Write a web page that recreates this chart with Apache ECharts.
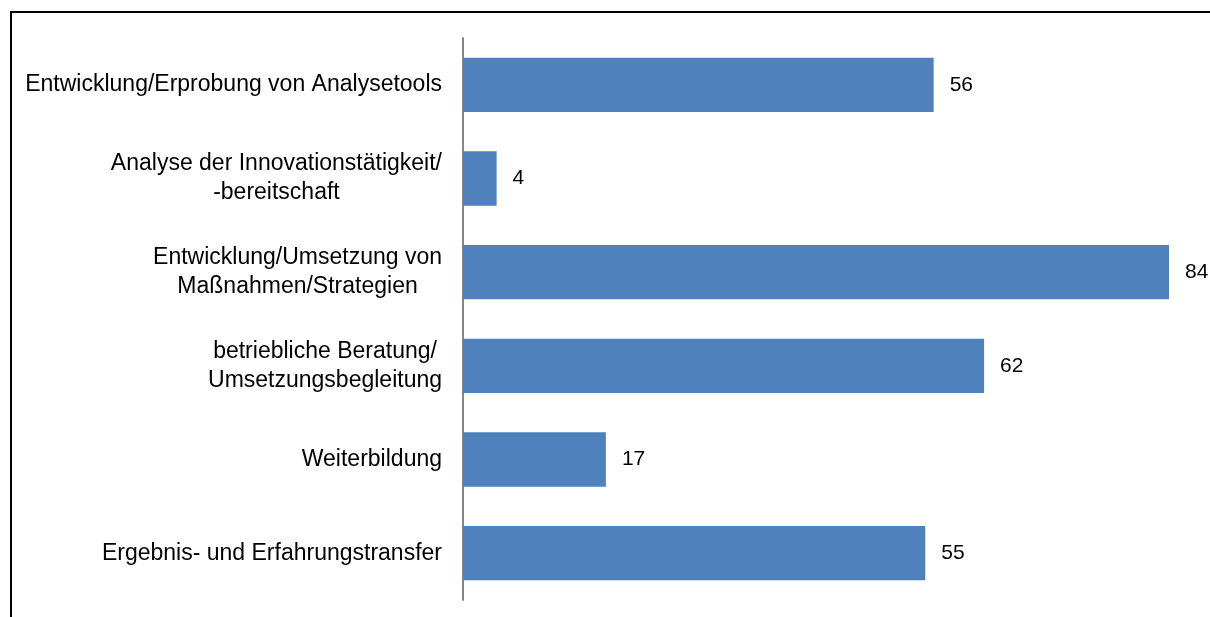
<!DOCTYPE html>
<html>
<head>
<meta charset="utf-8">
<script src="https://cdn.jsdelivr.net/npm/echarts@6/dist/echarts.min.js"></script>
<style>
  html, body { margin: 0; padding: 0; background: #fff; }
  #chart { width: 1210px; height: 617px; }
</style>
</head>
<body>
<div id="chart"></div>
<script>
// categories from top to bottom
var categories = [
  'Entwicklung/Erprobung von Analysetools',
  'Analyse der Innovationstätigkeit/\n-bereitschaft',
  'Entwicklung/Umsetzung von\nMaßnahmen/Strategien',
  'betriebliche Beratung/\nUmsetzungsbegleitung',
  'Weiterbildung',
  'Ergebnis- und Erfahrungstransfer'
];
var values = [56, 4, 84, 62, 17, 55];

var font = '"Liberation Sans", Arial, sans-serif';

var chart = echarts.init(document.getElementById('chart'));
chart.setOption({
  animation: false,
  grid: { left: 463, top: 38, right: 41, height: 562 },
  graphic: [{
    type: 'rect',
    shape: { x: 11, y: 12, width: 1260, height: 700 },
    style: { fill: 'none', stroke: '#000', lineWidth: 2 }
  }],
  xAxis: {
    type: 'value',
    min: 0,
    max: 84,
    show: false
  },
  yAxis: {
    type: 'category',
    inverse: true,
    data: categories,
    axisLine: { show: true, lineStyle: { color: '#868686', width: 2 } },
    axisTick: { show: false },
    splitLine: { show: false },
    axisLabel: {
      margin: 21,
      formatter: function (v) {
        return v.split('\n').map(function (s) { return '{c|' + s + '}'; }).join('\n');
      },
      rich: {
        c: { align: 'center', fontFamily: font, fontSize: 23, lineHeight: 29, color: '#000' }
      }
    }
  },
  series: [{
    type: 'bar',
    data: values,
    barCategoryGap: '42%',
    itemStyle: { color: '#4F81BD' },
    label: {
      show: true,
      position: 'right',
      distance: 16,
      color: '#000',
      fontFamily: font,
      fontSize: 21
    }
  }]
});
</script>
</body>
</html>
